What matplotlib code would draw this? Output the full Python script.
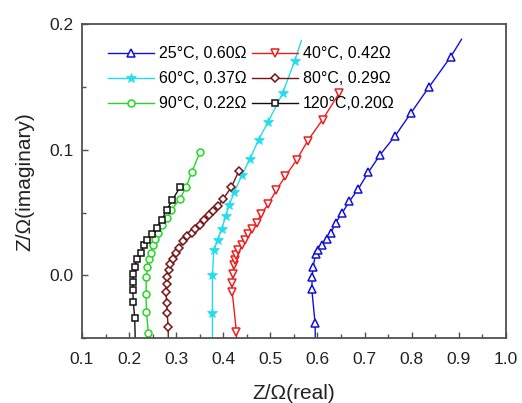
import matplotlib
matplotlib.use("Agg")
import matplotlib.pyplot as plt
from matplotlib.ticker import MultipleLocator, FormatStrFormatter

plt.rcParams['font.family'] = ['Liberation Sans', 'DejaVu Sans']

labels = ["25°C, 0.60Ω", "40°C, 0.42Ω", "60°C, 0.37Ω",
          "80°C, 0.29Ω", "90°C, 0.22Ω", "120°C,0.20Ω"]

x25 = [0.596, 0.595, 0.588, 0.589, 0.591, 0.596, 0.602, 0.609, 0.620, 0.629, 0.639,
       0.653, 0.668, 0.687, 0.708, 0.733, 0.765, 0.798, 0.837, 0.883, 0.906]
y25 = [-0.065, -0.038, -0.011, -0.001, 0.007, 0.017, 0.020, 0.024, 0.029, 0.034, 0.042,
       0.050, 0.059, 0.069, 0.082, 0.096, 0.111, 0.129, 0.150, 0.174, 0.188]

x40 = [0.429, 0.428, 0.419, 0.418, 0.421, 0.422, 0.425, 0.427, 0.432, 0.439, 0.446,
       0.453, 0.462, 0.471, 0.481, 0.496, 0.513, 0.532, 0.556, 0.579, 0.611, 0.646]
y40 = [-0.065, -0.045, -0.013, -0.006, 0.001, 0.008, 0.012, 0.016, 0.020, 0.024, 0.028,
       0.033, 0.037, 0.042, 0.049, 0.057, 0.068, 0.079, 0.092, 0.107, 0.124, 0.145]

x60 = [0.377, 0.377, 0.377, 0.380, 0.388, 0.397, 0.405, 0.413, 0.423, 0.440,
       0.457, 0.475, 0.495, 0.526, 0.552, 0.566]
y60 = [-0.065, -0.030, 0.000, 0.020, 0.028, 0.037, 0.047, 0.056, 0.066, 0.080,
       0.093, 0.108, 0.122, 0.145, 0.171, 0.187]

x80 = [0.284, 0.283, 0.281, 0.280, 0.278, 0.280, 0.281, 0.285, 0.288, 0.294, 0.300,
       0.307, 0.314, 0.322, 0.333, 0.341, 0.351, 0.360, 0.370, 0.379, 0.389, 0.400,
       0.417, 0.433]
y80 = [-0.065, -0.041, -0.030, -0.022, -0.013, -0.007, -0.001, 0.004, 0.009, 0.013, 0.018,
       0.022, 0.027, 0.031, 0.034, 0.037, 0.040, 0.044, 0.048, 0.051, 0.055, 0.061,
       0.070, 0.083]

x90 = [0.242, 0.241, 0.237, 0.236, 0.237, 0.239, 0.242, 0.246, 0.250, 0.256, 0.262,
       0.271, 0.280, 0.290, 0.308, 0.321, 0.333, 0.3505]
y90 = [-0.065, -0.046, -0.029, -0.015, -0.001, 0.007, 0.013, 0.018, 0.024, 0.029, 0.034,
       0.040, 0.046, 0.052, 0.061, 0.070, 0.082, 0.098]

x120 = [0.214, 0.212, 0.209, 0.208, 0.208, 0.209, 0.212, 0.217, 0.225, 0.232, 0.239,
        0.248, 0.259, 0.269, 0.280, 0.292, 0.308]
y120 = [-0.065, -0.034, -0.021, -0.012, -0.005, 0.001, 0.007, 0.013, 0.018, 0.024, 0.028,
        0.033, 0.038, 0.044, 0.052, 0.060, 0.070]

fig = plt.figure(figsize=(5.22, 4.03), dpi=100)
ax = fig.add_axes([0.157, 0.161, 0.812, 0.779])

lw = 1.0
ms = 5.5
h25, = ax.plot(x25, y25, color='#1010d8', lw=lw, marker='^', ms=ms, mfc='white', mew=1.1,
               markevery=slice(0, len(x25) - 1), label=labels[0])
h40, = ax.plot(x40, y40, color='#ee1c1c', lw=lw, marker='v', ms=ms, mfc='white', mew=1.1,
               label=labels[1])
h60, = ax.plot(x60, y60, color='#22dcf0', lw=lw, marker='*', ms=7, mfc='#22dcf0', mew=0.5,
               markevery=slice(0, len(x60) - 1), label=labels[2])
h80, = ax.plot(x80, y80, color='#7a1414', lw=lw, marker='D', ms=4.2, mfc='white', mew=1.1,
               label=labels[3])
h90, = ax.plot(x90, y90, color='#22d822', lw=lw, marker='o', ms=5, mfc='white', mew=1.1,
               label=labels[4])
h120, = ax.plot(x120, y120, color='#111111', lw=lw, marker='s', ms=4.5, mfc='white', mew=1.1,
                label=labels[5])

ax.set_xlim(0.1, 1.0)
ax.set_ylim(-0.05, 0.2)
ax.xaxis.set_major_locator(MultipleLocator(0.1))
ax.xaxis.set_minor_locator(MultipleLocator(0.05))
ax.yaxis.set_major_locator(MultipleLocator(0.1))
ax.yaxis.set_minor_locator(MultipleLocator(0.05))
ax.xaxis.set_major_formatter(FormatStrFormatter('%.1f'))
ax.yaxis.set_major_formatter(FormatStrFormatter('%.1f'))

frame_c = '#505050'
for s in ax.spines.values():
    s.set_color(frame_c)
    s.set_linewidth(1.3)
ax.tick_params(which='both', direction='in', top=False, right=False, color=frame_c,
               width=1.0, labelsize=12.5, labelcolor='#222222')
ax.tick_params(which='major', length=4.5)
ax.tick_params(which='minor', length=3)
ax.tick_params(axis='x', pad=10)
ax.tick_params(axis='y', pad=6)

ax.set_xlabel('Z/Ω(real)', fontsize=15, color='#222222', labelpad=12)
ax.set_ylabel('Z/Ω(imaginary)', fontsize=15, color='#222222', labelpad=11)

handles = [h25, h60, h90, h40, h80, h120]
ax.legend(handles=handles, labels=[h.get_label() for h in handles], ncol=2,
          loc='upper left', bbox_to_anchor=(0.035, 0.965), frameon=False,
          fontsize=11.5, handlelength=2.9, handletextpad=0.3, columnspacing=0.3,
          labelspacing=0.62, borderaxespad=0.3)

fig.savefig('out.png', dpi=100)
